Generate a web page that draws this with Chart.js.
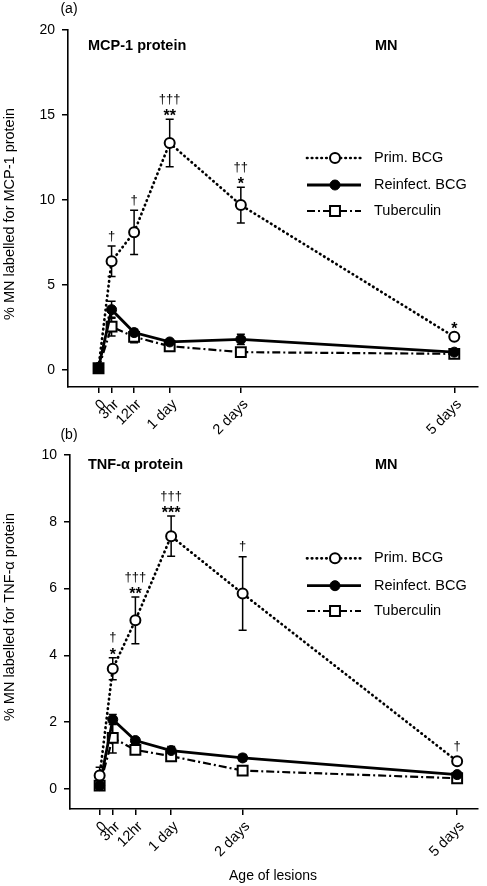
<!DOCTYPE html>
<html><head><meta charset="utf-8">
<script src="https://cdn.jsdelivr.net/npm/chart.js@4.4.0/dist/chart.umd.min.js"></script>
<style>
html,body{margin:0;padding:0;background:#fff;}
#wrap{position:relative;width:487px;height:886px;overflow:hidden;background:#fff;}
canvas{position:absolute;left:0;}
#ca{top:0;}
#cb{top:420px;}
</style></head><body>
<div id="wrap">
<canvas id="ca" width="487" height="440"></canvas>
<canvas id="cb" width="487" height="466"></canvas>
</div>
<script>
// ---- data ----
const timeLabels = ['0', '3hr', '12hr', '1 day', '2 days', '5 days'];
const timeHours = [0, 4.4, 12, 24, 48, 120];   // position on the age axis (hours)
const seriesNames = ['Prim. BCG', 'Reinfect. BCG', 'Tuberculin'];

// (a) MCP-1 protein
const mcpPrim      = [0.15, 6.4, 8.1, 13.35, 9.7, 1.95];
const mcpPrimErr   = [0, 0.9, 1.3, 1.4, 1.05, 0.1];
const mcpReinf     = [0.15, 3.55, 2.2, 1.65, 1.8, 1.05];
const mcpReinfErr  = [0.05, 0.5, 0.2, 0.15, 0.3, 0.1];
const mcpTub       = [0.1, 2.55, 1.95, 1.4, 1.05, 0.95];
const mcpTubErr    = [0.05, 0.55, 0.35, 0.15, 0.15, 0.1];
const mcpDaggers   = ['', '\u2020', '\u2020', '\u2020\u2020\u2020', '\u2020\u2020', ''];
const mcpStars     = ['', '', '', '**', '*', '*'];
const mcpTicks     = [0, 5, 10, 15, 20];

// (b) TNF-alpha protein
const tnfPrim      = [0.4, 3.6, 5.05, 7.57, 5.85, 0.83];
const tnfPrimErr   = [0.25, 0.33, 0.7, 0.6, 1.1, 0.05];
const tnfReinf     = [0.1, 2.08, 1.45, 1.15, 0.93, 0.43];
const tnfReinfErr  = [0.05, 0.15, 0.08, 0.12, 0.1, 0.05];
const tnfTub       = [0.1, 1.53, 1.17, 0.98, 0.55, 0.32];
const tnfTubErr    = [0.05, 0.45, 0.08, 0.12, 0.1, 0.05];
const tnfDaggers   = ['', '\u2020', '\u2020\u2020\u2020', '\u2020\u2020\u2020', '\u2020', '\u2020'];
const tnfStars     = ['', '*', '**', '***', '', ''];
const tnfTicks     = [0, 2, 4, 6, 8, 10];

// ---- drawing ----
const FONT = '"Liberation Sans", Arial, Helvetica, sans-serif';
Chart.defaults.font.family = FONT;
Chart.defaults.font.size = 14;
Chart.defaults.color = '#000';

function makeDatasets(prim, reinf, tub, zeroBlack) {
  const pts = arr => timeHours.map((h, i) => ({x: h, y: arr[i]}));
  const primRadius = timeHours.map((h, i) => (zeroBlack && i === 0) ? 0 : 5);
  const tubFill = timeHours.map((h, i) => (zeroBlack && i === 0) ? '#000' : '#fff');
  return [
    {label: seriesNames[0], data: pts(prim), borderColor: '#000', borderWidth: 2.7,
     borderDash: [0.5, 4.3], borderCapStyle: 'round', pointStyle: 'circle', pointRadius: primRadius,
     pointBorderWidth: 2, pointBackgroundColor: '#fff', pointBorderColor: '#000', tension: 0, clip: false},
    {label: seriesNames[1], data: pts(reinf), borderColor: '#000', borderWidth: 2.8,
     borderDash: [], pointStyle: 'circle', pointRadius: 5,
     pointBorderWidth: 1, pointBackgroundColor: '#000', pointBorderColor: '#000', tension: 0, clip: false},
    {label: seriesNames[2], data: pts(tub), borderColor: '#000', borderWidth: 2.2,
     borderDash: [8, 3, 2, 3], pointStyle: 'rect', pointRadius: 7,
     pointBorderWidth: 2, pointBackgroundColor: tubFill, pointBorderColor: '#000', tension: 0, clip: false}
  ];
}

function makeChart(id, cfg) {
  const vals = [cfg.prim, cfg.reinf, cfg.tub];
  const errs = [cfg.primErr, cfg.reinfErr, cfg.tubErr];
  const plugin = {
    id: 'extras' + id,
    beforeDatasetsDraw(chart) {
      const ctx = chart.ctx, xs = chart.scales.x, ys = chart.scales.y;
      ctx.save();
      ctx.strokeStyle = '#000';
      ctx.lineWidth = 1.5;
      vals.forEach((arr, s) => {
        arr.forEach((v, i) => {
          const e = errs[s][i];
          if (!e) return;
          const x = xs.getPixelForValue(timeHours[i]);
          const yt = ys.getPixelForValue(v + e), yb = ys.getPixelForValue(v - e);
          ctx.beginPath();
          ctx.moveTo(x, yt); ctx.lineTo(x, yb);
          ctx.moveTo(x - 4, yt); ctx.lineTo(x + 4, yt);
          ctx.moveTo(x - 4, yb); ctx.lineTo(x + 4, yb);
          ctx.stroke();
        });
      });
      ctx.restore();
    },
    afterDatasetsDraw(chart) {
      const ctx = chart.ctx, xs = chart.scales.x, ys = chart.scales.y;
      ctx.save();
      ctx.fillStyle = '#000';
      ctx.textAlign = 'center';
      ctx.textBaseline = 'alphabetic';
      timeHours.forEach((h, i) => {
        const x = xs.getPixelForValue(h);
        const ref = Math.min(ys.getPixelForValue(cfg.prim[i] + cfg.primErr[i]),
                             ys.getPixelForValue(cfg.prim[i]) - 5);
        const st = cfg.stars[i], dg = cfg.daggers[i];
        if (st) {
          ctx.font = 'bold 16px ' + FONT;
          ctx.fillText(st, x, ref + 2.2);
        }
        if (dg) {
          ctx.font = '13px ' + FONT;
          ctx.fillText(dg, x, st ? ref - 16.4 : ref - 6.4);
        }
      });
      ctx.restore();
    },
    afterDraw(chart) {
      const ctx = chart.ctx;
      ctx.save();
      ctx.fillStyle = '#000';
      ctx.textBaseline = 'middle';
      // panel letter
      ctx.font = '14px ' + FONT;
      ctx.textAlign = 'center';
      ctx.fillText(cfg.letter, cfg.letterX, cfg.letterY);
      // titles
      ctx.textAlign = 'left';
      ctx.font = 'bold 14.5px ' + FONT;
      ctx.fillText(cfg.title, 88, cfg.titleY);
      ctx.fillText('MN', 375, cfg.titleY);
      // y title
      ctx.save();
      ctx.translate(9.5, cfg.yTitleY);
      ctx.rotate(-Math.PI / 2);
      ctx.textAlign = 'center';
      ctx.font = '14.5px ' + FONT;
      ctx.fillText(cfg.yTitle, 0, 0);
      ctx.restore();
      // x title
      if (cfg.xTitle) {
        ctx.textAlign = 'center';
        ctx.textBaseline = 'alphabetic';
        ctx.font = '14px ' + FONT;
        ctx.fillText(cfg.xTitle, 273, cfg.xTitleY);
        ctx.textBaseline = 'middle';
      }
      // legend
      chart.data.datasets.forEach((ds, k) => {
        const y = cfg.legendY[k];
        ctx.save();
        ctx.strokeStyle = '#000';
        ctx.lineWidth = ds.borderWidth;
        ctx.setLineDash(ds.borderDash || []);
        ctx.lineCap = ds.borderCapStyle || 'butt';
        ctx.beginPath();
        ctx.moveTo(307, y); ctx.lineTo(361, y);
        ctx.stroke();
        ctx.setLineDash([]);
        ctx.lineCap = 'butt';
        ctx.fillStyle = k === 1 ? '#000' : '#fff';
        ctx.strokeStyle = ds.pointBorderColor;
        ctx.lineWidth = ds.pointBorderWidth;
        Chart.helpers.drawPoint(ctx, {pointStyle: ds.pointStyle, radius: k === 2 ? 7 : 5,
          borderWidth: ds.pointBorderWidth, rotation: 0}, 335, y);
        ctx.restore();
        ctx.fillStyle = '#000';
        ctx.font = '14.5px ' + FONT;
        ctx.textAlign = 'left';
        ctx.fillText(ds.label, 374, y);
      });
      ctx.restore();
    }
  };

  const axisStyle = {
    grid: {display: true, drawOnChartArea: false, drawTicks: true, tickLength: 6, color: '#000', lineWidth: 1.5},
    border: {display: true, color: '#000', width: 1.6}
  };

  return new Chart(document.getElementById(id), {
    type: 'line',
    data: {datasets: makeDatasets(cfg.prim, cfg.reinf, cfg.tub, cfg.zeroBlack)},
    options: {
      responsive: false, animation: false, devicePixelRatio: 1,
      layout: {padding: {top: cfg.padTop, right: 4, left: 0, bottom: 0}},
      plugins: {legend: {display: false}, tooltip: {enabled: false}, title: {display: false}},
      scales: {
        x: Object.assign({
          type: 'linear', min: cfg.xMin, max: cfg.xMax,
          afterBuildTicks: s => { s.ticks = timeHours.map(v => ({value: v})); },
          afterFit: s => { s.height = cfg.xAxisH; },
          ticks: {autoSkip: false, minRotation: 45, maxRotation: 45, padding: 3, labelOffset: 5,
                  font: {size: 14.5}, color: '#000',
                  callback: v => timeLabels[timeHours.indexOf(v)]}
        }, axisStyle),
        y: Object.assign({
          type: 'linear', min: cfg.yMin, max: cfg.yMax,
          afterBuildTicks: s => { s.ticks = cfg.yTicks.map(v => ({value: v})); },
          afterFit: s => { s.width = cfg.yAxisW; },
          ticks: {padding: 7, font: {size: 14}, color: '#000', callback: v => String(v)}
        }, axisStyle)
      }
    },
    plugins: [plugin]
  });
}

makeChart('ca', {
  prim: mcpPrim, primErr: mcpPrimErr, reinf: mcpReinf, reinfErr: mcpReinfErr,
  tub: mcpTub, tubErr: mcpTubErr, daggers: mcpDaggers, stars: mcpStars, zeroBlack: true,
  yMin: -1, yMax: 20, yTicks: mcpTicks, xMin: -10.3, xMax: 128,
  padTop: 30, xAxisH: 53, yAxisW: 68,
  letter: '(a)', letterX: 69, letterY: 9,
  title: 'MCP-1 protein', titleY: 46,
  yTitle: '% MN labelled for MCP-1 protein', yTitleY: 214,
  legendY: [158, 185, 211]
});

makeChart('cb', {
  prim: tnfPrim, primErr: tnfPrimErr, reinf: tnfReinf, reinfErr: tnfReinfErr,
  tub: tnfTub, tubErr: tnfTubErr, daggers: tnfDaggers, stars: tnfStars, zeroBlack: false,
  yMin: -0.6, yMax: 10, yTicks: tnfTicks, xMin: -9.95, xMax: 127,
  padTop: 35, xAxisH: 77, yAxisW: 70,
  letter: '(b)', letterX: 69, letterY: 15,
  title: 'TNF-\u03b1 protein', titleY: 45,
  yTitle: '% MN labelled for TNF-\u03b1 protein', yTitleY: 197,
  xTitle: 'Age of lesions', xTitleY: 460,
  legendY: [138.3, 165.7, 191]
});
</script>
</body></html>
